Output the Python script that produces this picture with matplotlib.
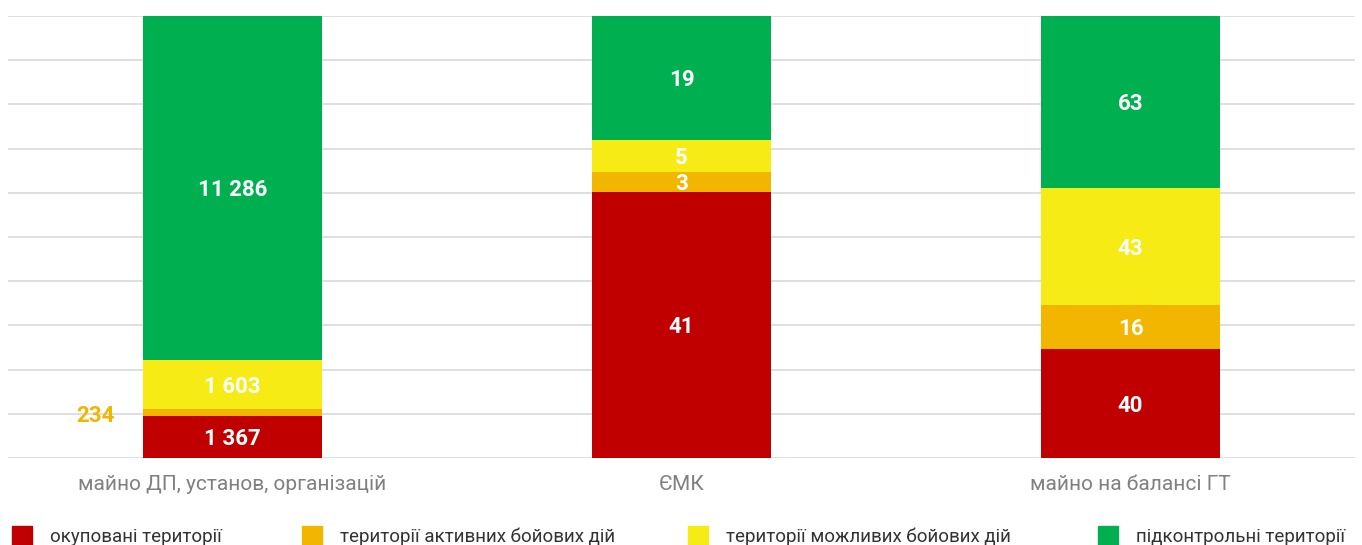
import numpy as np
import matplotlib.pyplot as plt
from matplotlib.patches import Rectangle

plt.rcParams['font.family'] = ['Roboto', 'DejaVu Sans']

categories = ["майно ДП, установ, організацій", "ЄМК", "майно на балансі ГТ"]
series_names = ["окуповані території", "території активних бойових дій",
                "території можливих бойових дій", "підконтрольні території"]
occupied = [1367, 41, 40]
active = [234, 3, 16]
possible = [1603, 5, 43]
controlled = [11286, 19, 63]

colors = ["#C00000", "#F2B600", "#F6EB14", "#00B050"]

def fmt(v):
    return f"{v:,}".replace(",", " ")

data = np.array([occupied, active, possible, controlled], dtype=float)
totals = data.sum(axis=0)
shares = data / totals

fig = plt.figure(figsize=(13.62, 5.45), dpi=100)
ax = fig.add_axes([8 / 1362, 1 - 458 / 545, 1347 / 1362, 442 / 545])

x = np.arange(len(categories))
bottom = np.zeros(len(categories))
for i, name in enumerate(series_names):
    ax.bar(x, shares[i], bottom=bottom, width=0.4, color=colors[i], zorder=2)
    for j in range(len(categories)):
        cy = bottom[j] + shares[i][j] / 2
        if i == 1 and j == 0:
            # small slice: label sits to the left of the bar
            ax.text(j - 0.305, cy - 0.008, fmt(int(data[i][j])), ha="center", va="center",
                    color="#F2B600", fontsize=16, fontweight="bold")
        else:
            ax.text(j, cy - 0.005, fmt(int(data[i][j])), ha="center", va="center",
                    color="white", fontsize=16, fontweight="bold", zorder=3)
    bottom += shares[i]

ax.set_xlim(-0.5, 2.5)
ax.set_ylim(0, 1)
ax.set_yticks(np.arange(0, 1.01, 0.1))
ax.set_yticklabels([])
ax.tick_params(axis="y", length=0)
ax.tick_params(axis="x", length=0, pad=12, labelsize=15, labelcolor="#808080")
ax.set_xticks(x)
ax.set_xticklabels(categories)
ax.grid(axis="y", color="#D9D9D9", linewidth=1.2, zorder=0)
for s in ax.spines.values():
    s.set_visible(False)

# legend row
legend_x = [12, 302, 688, 1098]
for i, name in enumerate(series_names):
    lx = legend_x[i] / 1362
    fig.add_artist(Rectangle((lx, 1 - 546 / 545), 20 / 1362, 20 / 545,
                             transform=fig.transFigure, color=colors[i]))
    fig.text((legend_x[i] + 38) / 1362, 1 - 537 / 545, name, ha="left", va="center",
             fontsize=13.5, color="#333333")

fig.savefig("out.png", dpi=100)
